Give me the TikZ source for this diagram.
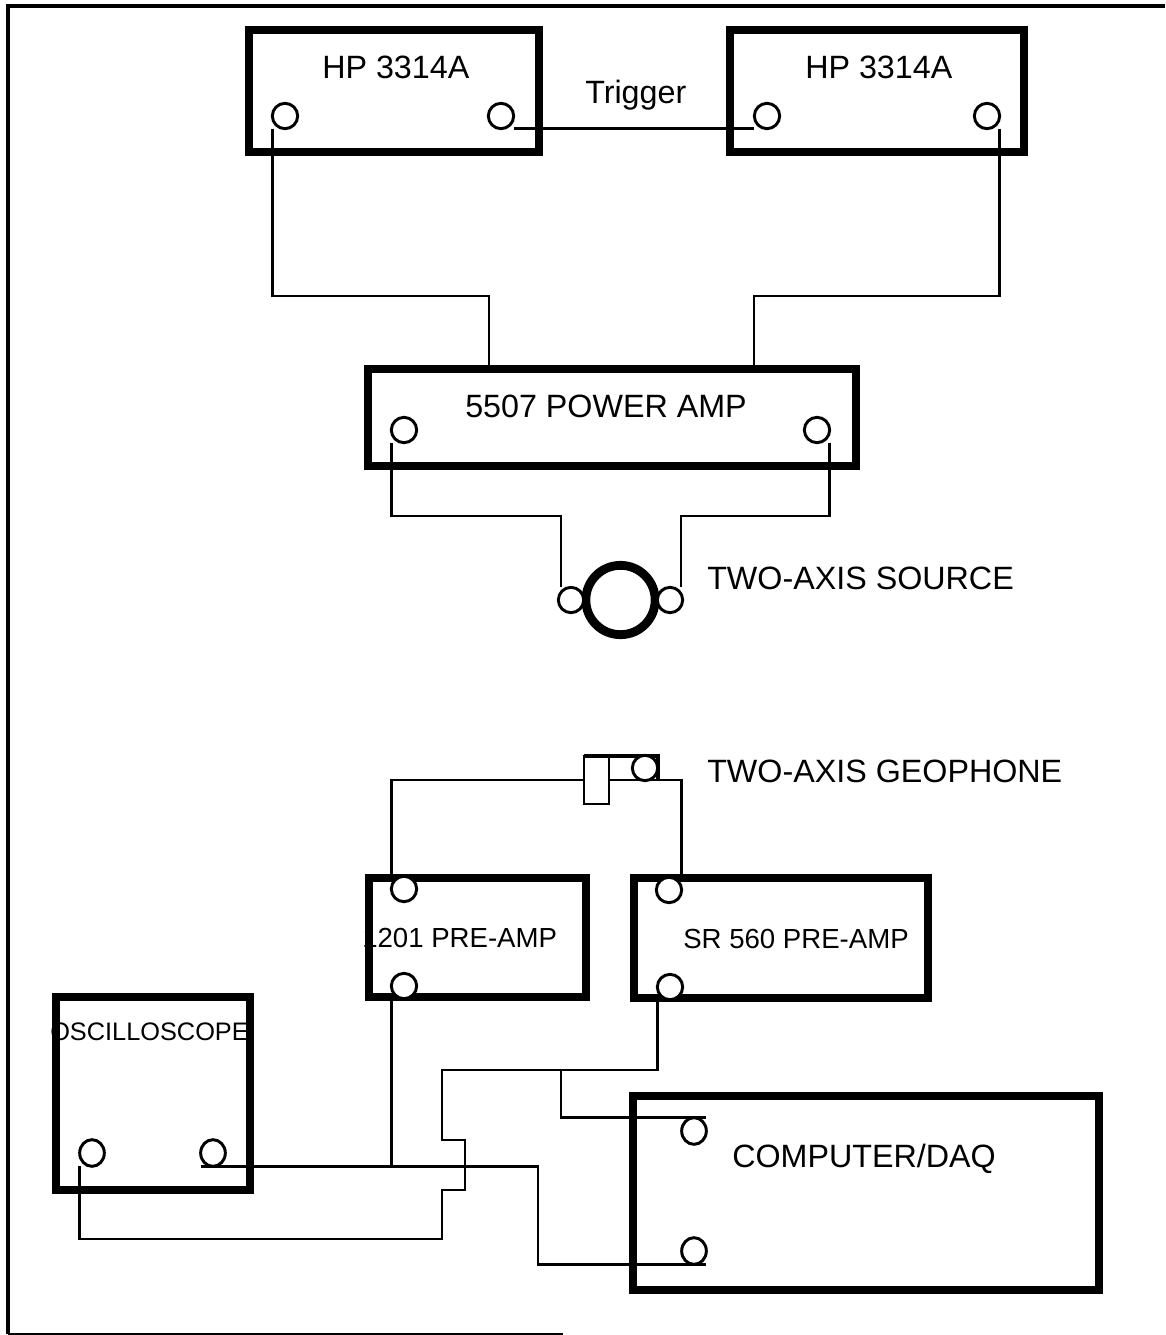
\documentclass[tikz,border=0pt]{standalone}
\usepackage{fontspec}
\setmainfont{Liberation Sans}
\usetikzlibrary{shapes.geometric}
\tikzset{
  box/.style 2 args={draw,rectangle,line width=5.7pt,inner sep=0pt,outer sep=0pt,minimum width=#1*0.75pt,minimum height=#2*0.75pt},
  gbox/.style 2 args={draw,rectangle,line width=2.2pt,inner sep=0pt,outer sep=0pt,minimum width=#1*0.75pt,minimum height=#2*0.75pt},
  wire/.style={line width=1.9pt,line join=miter,line cap=butt},
  port/.style={circle,draw,fill=white,line width=2.2pt,inner sep=0pt,outer sep=0pt,minimum size=19pt},
  oport/.style={ellipse,draw,fill=white,line width=2.2pt,inner sep=0pt,outer sep=0pt,minimum width=18.5pt,minimum height=20pt},
  bigtext/.style={font=\fontsize{24.2}{28}\selectfont,anchor=base west,inner sep=0pt},
  smalltext/.style={font=\fontsize{20.7}{24}\selectfont,anchor=base west,inner sep=0pt},
  osctext/.style={font=\fontsize{19}{22}\selectfont,anchor=base west,inner sep=0pt},
  frameline/.style={line join=miter,line cap=butt}
}
\begin{document}
\begin{tikzpicture}[x=0.75pt,y=-0.75pt]
\useasboundingbox (0,0) rectangle (1165,1335);
% frame
\draw[frameline,line width=3.6pt] (8,1334) -- (8,6) -- (1165,6);
\draw[frameline,line width=1.4pt] (8,1334) -- (563,1334);
% labels
\node[bigtext] (thp1) at (322,78) {HP 3314A};
\node[bigtext] (thp2) at (805,78) {HP 3314A};
\node[bigtext] (ttrig) at (585,103) {Trigger};
\node[bigtext] (tpow) at (465,417) {5507 POWER AMP};
\node[bigtext] (tsrc) at (707,589) {TWO-AXIS SOURCE};
\node[bigtext] (tgeo) at (707,782) {TWO-AXIS GEOPHONE};
\node[smalltext] (t1201) at (362,947) {1201 PRE-AMP};
\node[smalltext] (tsr) at (683,948) {SR 560 PRE-AMP};
\node[osctext] (tosc) at (50,1040) {OSCILLOSCOPE};
\node[bigtext] (tcomp) at (732,1167) {COMPUTER/DAQ};
% boxes
\node[box={290}{122}] (hp1) at (394,91) {};
\node[box={294}{122}] (hp2) at (877,91) {};
\node[box={488}{97}] (pow) at (612,417.5) {};
\node[box={217}{119}] (amp) at (477.5,937.5) {};
\node[box={294}{120}] (sr) at (781,938) {};
\node[box={194}{193}] (osc) at (153,1093.5) {};
\node[box={466}{194}] (comp) at (866,1193) {};
% geophone body
\node[gbox={25}{48}] (gb) at (596.5,780) {};
\coordinate (gk) at (658,0);
\draw[frameline,line width=2.6pt] (gb.north west) -| (gk |- gb.west);
% ports
\node[port] (hp1a) at (285,116) {};
\node[port] (hp1b) at (501,116) {};
\node[port] (hp2a) at (767,116) {};
\node[port] (hp2b) at (987,116) {};
\node[port] (powa) at (404,430) {};
\node[port] (powb) at (817,430) {};
\node[circle,draw,line width=6.6pt,inner sep=0pt,outer sep=0pt,minimum size=52pt] (src) at (620.5,600) {};
\node[port] (srca) at (571,600) {};
\node[port] (srcb) at (670,600) {};
\node[port] (geo) at (645,768) {};
\node[port] (ama) at (404,889) {};
\node[port] (amb) at (404,986) {};
\node[port] (sra) at (669,890) {};
\node[port] (srb) at (670,987) {};
\node[oport] (osa) at (92,1153) {};
\node[oport] (osb) at (213,1153) {};
\node[oport] (coa) at (694,1131) {};
\node[oport] (cob) at (694,1251) {};
% bends
\coordinate (bl) at (489,296);
\coordinate (br) at (754,296);
\coordinate (cl) at (561,516);
\coordinate (cr) at (681,516);
\coordinate (j1) at (561,1070);
\coordinate (kx) at (538,0);
\begin{scope}[wire]
\draw (hp1a.west |- hp1a.south) |- (bl) -- (bl |- pow.north);
\draw (hp2b.east |- hp2b.south) |- (br) -- (br |- pow.north);
\draw (hp1b.east |- hp1b.south) -- (hp2a.west |- hp2a.south);
\draw (powa.west |- powa.south) |- (cl) -- (cl |- srca.north);
\draw (powb.east |- powb.south) |- (cr) -- (cr |- srcb.north);
\draw (ama.west |- ama.north) |- (gb.west);
\draw (gb.east) -| (sra.east |- sra.north);
\draw (amb.west |- amb.south) -- (amb.west |- osb.south);
\draw (osb.west |- osb.south) -| (kx |- cob.south) -- (cob.east |- cob.south);
\draw (srb.west |- srb.south) |- (442,1070) -- (442,1140) -- (465,1140) -- (465,1190) -- (442,1190) -- (442,1239) -| (osa.west |- osa.south);
\draw (j1) |- (coa.east |- coa.north);
\end{scope}
\end{tikzpicture}
\end{document}
